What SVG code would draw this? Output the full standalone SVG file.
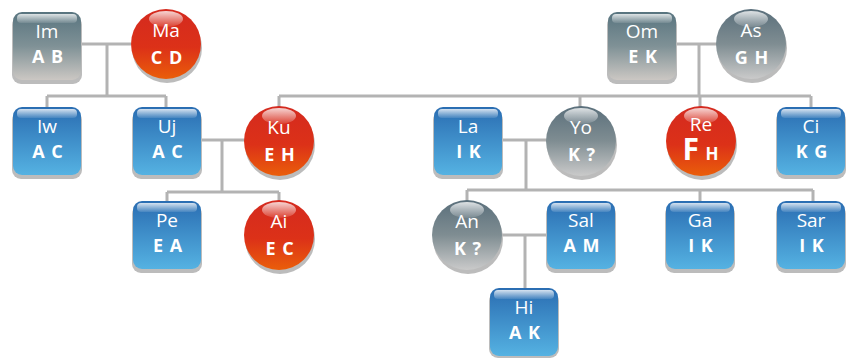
<svg xmlns="http://www.w3.org/2000/svg" width="848" height="360" viewBox="0 0 848 360">
<defs>
<linearGradient id="gBlue" x1="0" y1="0" x2="0" y2="1"><stop offset="0" stop-color="#2a6db2"/><stop offset="1" stop-color="#55b2e2"/></linearGradient>
<linearGradient id="gGreyBox" x1="0" y1="0" x2="0" y2="1"><stop offset="0" stop-color="#58747f"/><stop offset="0.5" stop-color="#7f9196"/><stop offset="1" stop-color="#cbc7c3"/></linearGradient>
<linearGradient id="gRed" x1="0" y1="0" x2="0" y2="1"><stop offset="0" stop-color="#d42a1f"/><stop offset="0.55" stop-color="#dc3118"/><stop offset="1" stop-color="#ea5e0a"/></linearGradient>
<linearGradient id="gGreyC" x1="0" y1="0" x2="0" y2="1"><stop offset="0" stop-color="#5a6f7b"/><stop offset="0.5" stop-color="#7f8d92"/><stop offset="1" stop-color="#cacaca"/></linearGradient>
<linearGradient id="gGloss" x1="0" y1="0" x2="0" y2="1"><stop offset="0" stop-color="#ffffff" stop-opacity="0.8"/><stop offset="1" stop-color="#ffffff" stop-opacity="0.1"/></linearGradient>
</defs>
<style>
.ln{stroke:#b3b3b3;stroke-width:3;fill:none}
.sh{fill:#bcbcbc}
.blue{fill:url(#gBlue)}
.gbox{fill:url(#gGreyBox)}
.red{fill:url(#gRed)}
.gc{fill:url(#gGreyC)}
.gl{fill:url(#gGloss)}
text{font-family:"Open Sans","DejaVu Sans",sans-serif;fill:#ffffff;text-anchor:middle}
.n{font-size:19px}
.c{font-size:18px;font-weight:bold;letter-spacing:1px}
</style>
<g id="connectors">
<path class="ln" d="M81 44H131M107 44V96M47 96H166M47 96V107M166 96V107"/>
<path class="ln" d="M200 140H245M222 140V192M167 192H279M167 192V201M279 192V201"/>
<path class="ln" d="M279 96H811M279 96V107M580 96V107M700 96V107M811 96V107"/>
<path class="ln" d="M676 44H717M699 44V96"/>
<path class="ln" d="M502 140H547M526 140V190M467 190H813M467 190V201M700 190V201M813 190V201"/>
<path class="ln" d="M501 235H547M525 235V288"/>
</g>
<g id="Im"><rect class="sh" x="12" y="16" width="70" height="68" rx="9"/><rect class="gbox" x="13" y="12" width="68" height="68" rx="9"/><rect class="gl" x="17" y="14" width="60" height="9" rx="4"/><text class="n" x="47" y="38">Im</text><text class="c" x="48" y="63">A B</text></g>
<g id="Ma"><circle class="sh" cx="167" cy="48" r="35"/><circle class="red" cx="166" cy="44" r="35"/><ellipse class="gl" cx="166" cy="19" rx="17" ry="8"/><text class="n" x="166" y="37">Ma</text><text class="c" x="167" y="64">C D</text></g>
<g id="Iw"><rect class="sh" x="12" y="111" width="70" height="68" rx="9"/><rect class="blue" x="13" y="107" width="68" height="68" rx="9"/><rect class="gl" x="17" y="109" width="60" height="9" rx="4"/><text class="n" x="47" y="133">Iw</text><text class="c" x="48" y="158">A C</text></g>
<g id="Uj"><rect class="sh" x="132" y="111" width="70" height="68" rx="9"/><rect class="blue" x="133" y="107" width="68" height="68" rx="9"/><rect class="gl" x="137" y="109" width="60" height="9" rx="4"/><text class="n" x="167" y="133">Uj</text><text class="c" x="168" y="158">A C</text></g>
<g id="Ku"><circle class="sh" cx="280" cy="145" r="35"/><circle class="red" cx="279" cy="141" r="35"/><ellipse class="gl" cx="279" cy="116" rx="17" ry="8"/><text class="n" x="279" y="134">Ku</text><text class="c" x="280" y="161">E H</text></g>
<g id="Pe"><rect class="sh" x="132" y="205" width="70" height="68" rx="9"/><rect class="blue" x="133" y="201" width="68" height="68" rx="9"/><rect class="gl" x="137" y="203" width="60" height="9" rx="4"/><text class="n" x="167" y="227">Pe</text><text class="c" x="168" y="252">E A</text></g>
<g id="Ai"><circle class="sh" cx="280" cy="239" r="35"/><circle class="red" cx="279" cy="235" r="35"/><ellipse class="gl" cx="279" cy="210" rx="17" ry="8"/><text class="n" x="279" y="228">Ai</text><text class="c" x="280" y="255">E C</text></g>
<g id="Om"><rect class="sh" x="607" y="16" width="70" height="68" rx="9"/><rect class="gbox" x="608" y="12" width="68" height="68" rx="9"/><rect class="gl" x="612" y="14" width="60" height="9" rx="4"/><text class="n" x="642" y="38">Om</text><text class="c" x="643" y="63">E K</text></g>
<g id="As"><circle class="sh" cx="752" cy="48" r="35"/><circle class="gc" cx="751" cy="44" r="35"/><ellipse class="gl" cx="751" cy="19" rx="17" ry="8"/><text class="n" x="751" y="37">As</text><text class="c" x="752" y="64">G H</text></g>
<g id="La"><rect class="sh" x="433" y="111" width="70" height="68" rx="9"/><rect class="blue" x="434" y="107" width="68" height="68" rx="9"/><rect class="gl" x="438" y="109" width="60" height="9" rx="4"/><text class="n" x="468" y="133">La</text><text class="c" x="469" y="158">I K</text></g>
<g id="Yo"><circle class="sh" cx="582" cy="145" r="35"/><circle class="gc" cx="581" cy="141" r="35"/><ellipse class="gl" cx="581" cy="116" rx="17" ry="8"/><text class="n" x="581" y="134">Yo</text><text class="c" x="582" y="161">K ?</text></g>
<g id="Re"><circle class="sh" cx="702" cy="145" r="35"/><circle class="red" cx="701" cy="141" r="35"/><ellipse class="gl" cx="701" cy="116" rx="17" ry="8"/><text class="n" x="701" y="131">Re</text><text class="c" x="701" y="160"><tspan font-size="30">F</tspan><tspan font-size="17"> H</tspan></text></g>
<g id="Ci"><rect class="sh" x="776" y="111" width="70" height="68" rx="9"/><rect class="blue" x="777" y="107" width="68" height="68" rx="9"/><rect class="gl" x="781" y="109" width="60" height="9" rx="4"/><text class="n" x="811" y="133">Ci</text><text class="c" x="812" y="158">K G</text></g>
<g id="An"><circle class="sh" cx="468" cy="239" r="35"/><circle class="gc" cx="467" cy="235" r="35"/><ellipse class="gl" cx="467" cy="210" rx="17" ry="8"/><text class="n" x="467" y="228">An</text><text class="c" x="468" y="255">K ?</text></g>
<g id="Sal"><rect class="sh" x="546" y="205" width="70" height="68" rx="9"/><rect class="blue" x="547" y="201" width="68" height="68" rx="9"/><rect class="gl" x="551" y="203" width="60" height="9" rx="4"/><text class="n" x="581" y="227">Sal</text><text class="c" x="582" y="252">A M</text></g>
<g id="Ga"><rect class="sh" x="665" y="205" width="70" height="68" rx="9"/><rect class="blue" x="666" y="201" width="68" height="68" rx="9"/><rect class="gl" x="670" y="203" width="60" height="9" rx="4"/><text class="n" x="700" y="227">Ga</text><text class="c" x="701" y="252">I K</text></g>
<g id="Sar"><rect class="sh" x="776" y="205" width="70" height="68" rx="9"/><rect class="blue" x="777" y="201" width="68" height="68" rx="9"/><rect class="gl" x="781" y="203" width="60" height="9" rx="4"/><text class="n" x="811" y="227">Sar</text><text class="c" x="812" y="252">I K</text></g>
<g id="Hi"><rect class="sh" x="489" y="292" width="70" height="66" rx="9"/><rect class="blue" x="490" y="288" width="68" height="68" rx="9"/><rect class="gl" x="494" y="290" width="60" height="9" rx="4"/><text class="n" x="524" y="314">Hi</text><text class="c" x="525" y="339">A K</text></g>
</svg>
